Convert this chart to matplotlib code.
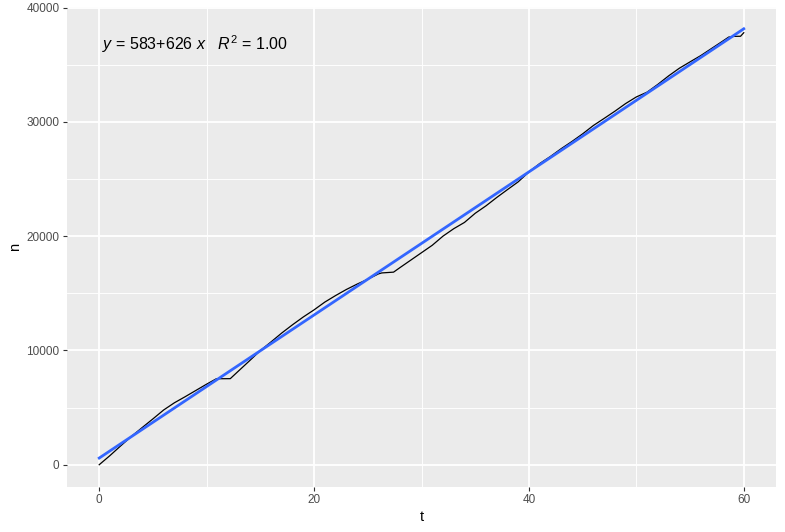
import numpy as np
import matplotlib
matplotlib.use('Agg')
import matplotlib.pyplot as plt

plt.rcParams['font.family'] = ['Liberation Sans', 'DejaVu Sans']
plt.rcParams['mathtext.fontset'] = 'custom'
plt.rcParams['mathtext.rm'] = 'Liberation Sans'
plt.rcParams['mathtext.it'] = 'Liberation Sans:italic'

t = [0, 1, 2, 3, 4, 5, 6, 7, 8, 9, 10, 10.9, 12.2, 13, 14, 15, 16, 17, 18, 19,
     20, 21, 22, 23, 24, 25, 26, 26.3, 27.4, 28, 29, 30, 31, 32, 33, 34, 35, 36, 37, 38,
     39, 40, 41, 42, 43, 44, 45, 46, 47, 48, 49, 50, 51, 52, 53, 54, 55, 56, 57, 58,
     58.6, 59.1, 59.7, 60]
n = [0, 800, 1650, 2480, 3250, 4010, 4790, 5420, 5950, 6500, 7050, 7520, 7530, 8230, 9100, 9990, 10750, 11530, 12250, 12930,
     13550, 14230, 14800, 15330, 15800, 16230, 16700, 16780, 16850, 17250, 17900, 18550, 19200, 20000, 20650, 21200, 22000, 22650, 23380, 24070,
     24750, 25620, 26350, 26970, 27650, 28280, 28950, 29680, 30300, 30930, 31600, 32180, 32600, 33280, 34020, 34690, 35250, 35800, 36420, 37040,
     37420, 37480, 37490, 37800]

# linear fit reported on the chart
intercept = 583
slope = 626
r2 = 1.00

x_ticks = [0, 20, 40, 60]
y_ticks = [0, 10000, 20000, 30000, 40000]

fig = plt.figure(figsize=(7.85, 5.32), dpi=100)
ax = fig.add_axes([67 / 785, 1 - 486.5 / 532, (776 - 67) / 785, (486.5 - 7) / 532])
ax.set_facecolor('#EBEBEB')
for s in ax.spines.values():
    s.set_visible(False)

ax.set_xlim(-3, 63)
ax.set_ylim(-1907, 40050)
ax.set_xticks(x_ticks)
ax.set_yticks(y_ticks)
ax.set_xticks([10, 30, 50], minor=True)
ax.set_yticks([5000, 15000, 25000, 35000], minor=True)
ax.grid(True, which='major', color='white', linewidth=1.3)
ax.grid(True, which='minor', color='white', linewidth=0.65)
ax.set_axisbelow(True)
ax.tick_params(which='major', length=3, width=0.8, color='#333333', labelcolor='#4D4D4D',
               labelsize=8.5, pad=2.5)
ax.tick_params(which='minor', length=0)

ax.plot(t, n, color='black', linewidth=0.9)
tf = np.array([min(t), max(t)])
ax.plot(tf, intercept + slope * tf, color='#3366FF', linewidth=2.0)

ax.text(0.3, 36330, f'$y$ = {intercept}+{slope} $x$   $R^2$ = {r2:.2f}',
        fontsize=11.5, color='black', ha='left', va='baseline')

ax.set_xlabel('t', fontsize=10.5, labelpad=3)
ax.set_ylabel('n', fontsize=10.5, labelpad=3)

fig.savefig('out.png', dpi=100)
plt.close(fig)
